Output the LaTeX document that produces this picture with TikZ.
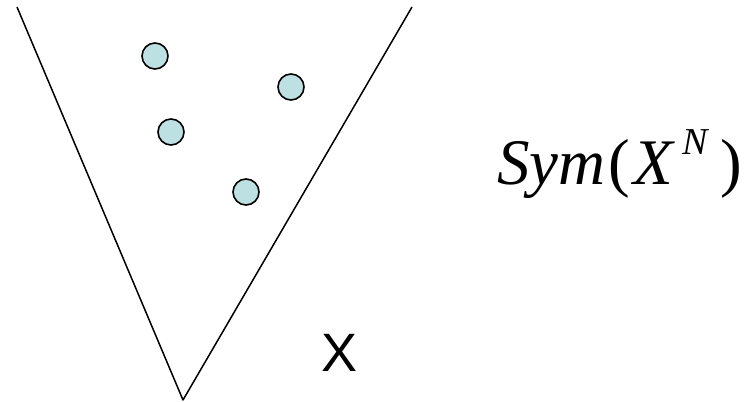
\documentclass[tikz,border=0pt]{standalone}
\usepackage{fontspec}
\setmainfont{Liberation Serif}
\setsansfont{Liberation Sans}
\usepackage{xcolor}
\usepackage{tikz}
\usetikzlibrary{positioning}

\definecolor{pointfill}{HTML}{BDE0E3}
\tikzset{
  point/.style={circle, draw=black, line width=1.6pt, fill=pointfill, minimum size=26pt, inner sep=0pt},
  cone/.style={line width=1.5pt, line join=round}
}

\begin{document}
\begin{tikzpicture}[x=1pt, y=1pt]
      \useasboundingbox (0,0) rectangle (756,402);
      \coordinate (tipL) at (17,395);
      \coordinate (apex) at (183,2);
      \coordinate (tipR) at (412,395);
      \draw[cone] (tipL) -- (apex) -- (tipR);
      \foreach \x/\y/\n in {155/346/p1, 291/315/p2, 171/270/p3, 246/210/p4}{
        \node[point] (\n) at (\x,\y) {};
      }
      \node[anchor=base west, inner sep=0pt] (sym) at (497,217)
        {\fontsize{65}{70}\selectfont\textit{Sym}\hspace{3pt}(\hspace{3pt}\textit{X}\hspace{8pt}\raisebox{30pt}{\fontsize{38}{40}\selectfont\textit{N}}\hspace{10pt})};
      \node[anchor=base west, inner sep=0pt] (space) at (321,30)
        {\sffamily\fontsize{54}{60}\selectfont X};
    \end{tikzpicture}
\end{document}
